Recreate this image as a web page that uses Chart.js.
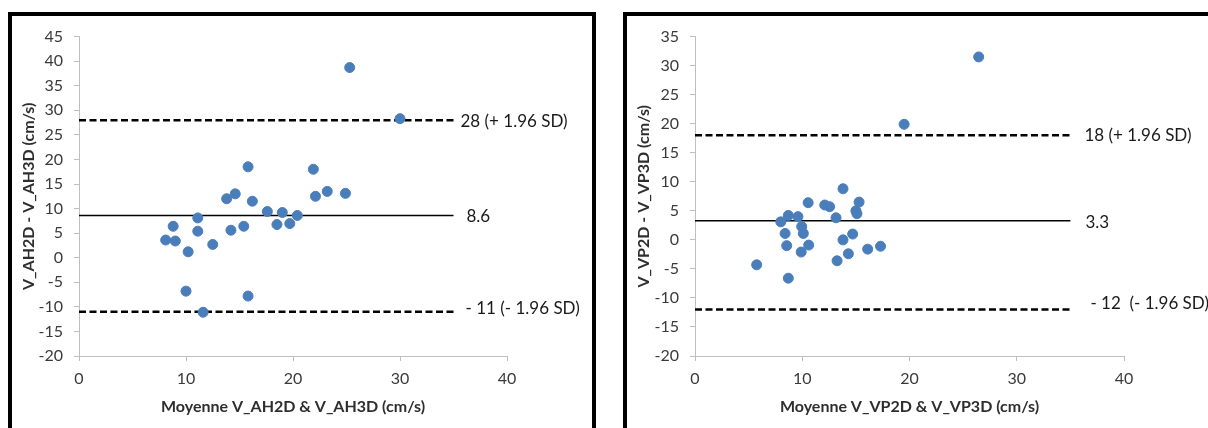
<!DOCTYPE html>
<html>
<head>
<meta charset="utf-8">
<script src="https://cdn.jsdelivr.net/npm/chart.js@4.4.0/dist/chart.umd.min.js"></script>
<style>
  html, body { margin: 0; padding: 0; background: #fff; overflow: hidden; width: 1208px; height: 428px; }
  .box { position: absolute; border: 4px solid #000; background: #fff; }
  #boxL { left: 8px; top: 12px; width: 580px; height: 430px; }
  #boxR { left: 623px; top: 12px; width: 592px; height: 430px; }
  canvas { display: block; }
</style>
</head>
<body>
<div class="box" id="boxL"><canvas id="cL" width="580" height="412"></canvas></div>
<div class="box" id="boxR"><canvas id="cR" width="592" height="412"></canvas></div>
<script>
// ---- Data: left panel (V_AH) ----
const ahMean = [25.3, 30.0, 15.8, 21.9, 23.2, 24.9, 22.1, 14.6, 13.8, 16.2, 17.6, 19.0, 20.4, 11.1, 18.5, 19.7, 8.8, 15.4, 11.1, 14.2, 8.1, 9.0, 12.5, 10.2, 10.0, 15.8, 11.6];
const ahDiff = [38.7, 28.3, 18.5, 18.0, 13.5, 13.1, 12.5, 13.0, 12.0, 11.5, 9.4, 9.2, 8.6, 8.1, 6.75, 6.95, 6.4, 6.4, 5.4, 5.6, 3.6, 3.4, 2.7, 1.2, -6.8, -7.8, -11.1];
const ahLimits = [28, 8.6, -11];
const ahLabels = ["28 (+ 1.96 SD)", "8.6", "- 11 (- 1.96 SD)"];

// ---- Data: right panel (V_VP) ----
const vpMean = [26.45, 19.5, 13.8, 10.55, 15.3, 12.1, 12.55, 15.0, 15.1, 8.7, 9.6, 13.15, 8.0, 9.95, 8.4, 10.1, 14.7, 13.8, 8.55, 10.6, 17.3, 16.1, 9.9, 14.3, 13.25, 5.75, 8.7];
const vpDiff = [31.5, 19.9, 8.8, 6.4, 6.5, 6.0, 5.7, 5.0, 4.5, 4.2, 4.0, 3.8, 3.1, 2.3, 1.1, 1.1, 1.0, 0.0, -1.0, -0.9, -1.1, -1.6, -2.1, -2.4, -3.6, -4.3, -6.6];
const vpLimits = [18, 3.3, -12];
const vpLabels = ["18 (+ 1.96 SD)", "3.3", "- 12  (- 1.96 SD)"];

const lineEndX = 35;
const xTicks = [0, 10, 20, 30, 40];

const FONT = "Lato, 'Liberation Sans', sans-serif";

function makeChart(id, xs, ys, limits, labels, cfg) {
  const pts = xs.map((x, i) => ({ x: x, y: ys[i] }));
  const seg = v => [{ x: 0, y: v }, { x: lineEndX, y: v }];
  const labelPlugin = {
    id: 'limitLabels',
    afterDatasetsDraw(chart) {
      const ctx = chart.ctx;
      const xs_ = chart.scales.x, ys_ = chart.scales.y;
      ctx.save();
      ctx.font = "17px " + FONT;
      ctx.fillStyle = '#1a1a1a';
      ctx.textBaseline = 'middle';
      ctx.textAlign = 'left';
      limits.forEach((v, i) => {
        const px = xs_.getPixelForValue(lineEndX) + cfg.dx[i];
        const py = ys_.getPixelForValue(v) + cfg.dy[i];
        ctx.fillText(labels[i], px, py);
      });
      ctx.restore();
    }
  };
  return new Chart(document.getElementById(id), {
    type: 'scatter',
    data: {
      datasets: [
        { data: pts, backgroundColor: '#4A7EBB', borderColor: '#4A7EBB', pointRadius: 5, pointHoverRadius: 5, order: 0 },
        { type: 'line', data: seg(limits[0]), borderColor: '#000', borderWidth: 2.5, borderDash: [7, 3.5], pointRadius: 0, fill: false, order: 1 },
        { type: 'line', data: seg(limits[1]), borderColor: '#000', borderWidth: 1.5, pointRadius: 0, fill: false, order: 1 },
        { type: 'line', data: seg(limits[2]), borderColor: '#000', borderWidth: 2.5, borderDash: [7, 3.5], pointRadius: 0, fill: false, order: 1 }
      ]
    },
    options: {
      responsive: false,
      animation: false,
      devicePixelRatio: 1,
      events: [],
      layout: { padding: { top: cfg.top, right: cfg.right, left: 0, bottom: 0 } },
      plugins: { legend: { display: false }, tooltip: { enabled: false } },
      scales: {
        x: {
          type: 'linear', min: 0, max: 40,
          afterBuildTicks: s => { s.ticks = xTicks.map(v => ({ value: v })); },
          border: { display: true, color: '#BFBFBF', width: 1 },
          grid: { display: true, drawOnChartArea: false, drawTicks: true, tickLength: 5, color: '#BFBFBF', lineWidth: 1 },
          ticks: { color: '#3a3a3a', font: { family: FONT, size: 16 }, padding: 8, maxRotation: 0 },
          title: { display: true, text: cfg.xTitle, color: '#2e2e2e', font: { family: FONT, size: 16, weight: 'bold' }, padding: { top: 0, bottom: 12 } },
          afterFit: s => { s.height = 72; }
        },
        y: {
          type: 'linear', min: -20, max: cfg.yMax,
          ticks: { stepSize: 5, color: '#3a3a3a', font: { family: FONT, size: 16 }, padding: 11 },
          border: { display: true, color: '#BFBFBF', width: 1 },
          grid: { display: true, drawOnChartArea: false, drawTicks: true, tickLength: 5, color: '#BFBFBF', lineWidth: 1 },
          title: { display: true, text: cfg.yTitle, color: '#2e2e2e', font: { family: FONT, size: 16, weight: 'bold' }, padding: { top: cfg.yTitlePad, bottom: 0 } },
          afterFit: s => { s.width = cfg.yWidth; }
        }
      }
    },
    plugins: [labelPlugin]
  });
}

makeChart('cL', ahMean, ahDiff, ahLimits, ahLabels, {
  yMax: 45, top: 19, right: 85, yWidth: 67, yTitlePad: 7,
  dx: [7, 13, 12], dy: [1, 1, -3],
  xTitle: 'Moyenne V_AH2D & V_AH3D (cm/s)',
  yTitle: 'V_AH2D - V_AH3D (cm/s)'
});
makeChart('cR', vpMean, vpDiff, vpLimits, vpLabels, {
  yMax: 35, top: 19, right: 95, yWidth: 68, yTitlePad: 7,
  dx: [14, 15, 20], dy: [0, 2, -6],
  xTitle: 'Moyenne V_VP2D & V_VP3D (cm/s)',
  yTitle: 'V_VP2D - V_VP3D (cm/s)'
});
</script>
</body>
</html>
